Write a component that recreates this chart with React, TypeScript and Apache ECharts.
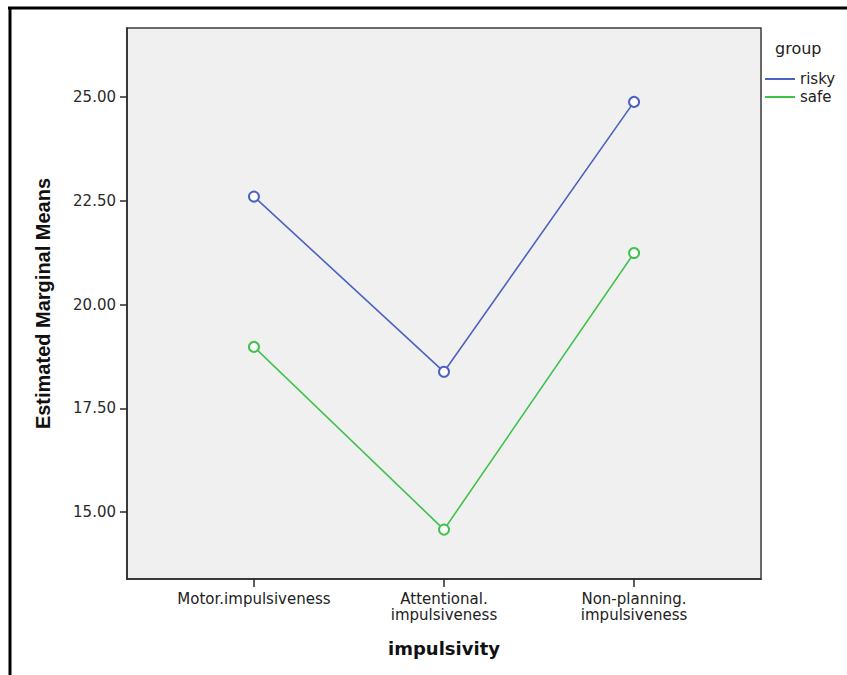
import React, { useEffect, useRef } from "react";
import * as echarts from "echarts";

const categories = ["Motor.impulsiveness", "Attentional.\nimpulsiveness", "Non-planning.\nimpulsiveness"];
const risky = [22.6, 18.38, 24.88];
const safe = [18.98, 14.58, 21.24];
const yTicks = [15, 17.5, 20, 22.5, 25];
const seriesNames = ["risky", "safe"];

export default function App() {
  const ref = useRef<HTMLDivElement>(null);
  useEffect(() => {
    if (!ref.current) return;
    const chart = echarts.init(ref.current, undefined, { renderer: "svg" });
    const toPts = (arr: number[]) => arr.map((v, i) => [i, v]);
    chart.setOption({
      animation: false,
      backgroundColor: "#ffffff",
      grid: {
        left: 127,
        top: 28,
        right: 86,
        bottom: 96,
        show: true,
        backgroundColor: "#f0f0f0",
        borderColor: "#3a3a3a",
        borderWidth: 1.5,
      },
      xAxis: {
        type: "value",
        min: -0.668,
        max: 2.668,
        splitLine: { show: false },
        axisLine: { show: true, onZero: false, lineStyle: { color: "#2a2a2a", width: 1.5 } },
        axisTick: { show: true, customValues: [0, 1, 2], length: 8, lineStyle: { color: "#2a2a2a", width: 1.5 } },
        axisLabel: {
          customValues: [0, 1, 2],
          formatter: (v: number) => categories[Math.round(v)] ?? "",
          fontFamily: "DejaVu Sans",
          fontSize: 15,
          lineHeight: 16,
          color: "#222",
          margin: 12,
        },
        name: "impulsivity",
        nameLocation: "middle",
        nameGap: 60,
        nameTextStyle: { fontFamily: "DejaVu Sans", fontWeight: "bold", fontSize: 18, color: "#111" },
      },
      yAxis: {
        type: "value",
        min: 13.39,
        max: 26.66,
        splitLine: { show: false },
        axisLine: { show: true, onZero: false, lineStyle: { color: "#2a2a2a", width: 1.5 } },
        axisTick: { show: true, customValues: yTicks, length: 7, lineStyle: { color: "#2a2a2a", width: 1.5 } },
        axisLabel: {
          customValues: yTicks,
          formatter: (v: number) => v.toFixed(2),
          fontFamily: "DejaVu Sans",
          fontSize: 15,
          color: "#2a2a2a",
          margin: 11,
        },
        name: "Estimated Marginal Means",
        nameLocation: "middle",
        nameGap: 74,
        nameTextStyle: { fontFamily: "Liberation Sans", fontWeight: "bold", fontSize: 20, color: "#111" },
      },
      legend: {
        orient: "vertical",
        left: 760,
        top: 65,
        icon: "rect",
        itemWidth: 30,
        itemHeight: 2,
        itemGap: 0,
        textStyle: { fontFamily: "DejaVu Sans", fontSize: 15, color: "#222", lineHeight: 18 },
        data: seriesNames,
      },
      graphic: [
        { type: "text", left: 775, top: 40, style: { text: "group", fontFamily: "DejaVu Sans", fontSize: 16, fill: "#222" } },
        { type: "line", shape: { x1: 8, y1: 8, x2: 847, y2: 8 }, style: { stroke: "#000", lineWidth: 3 } },
        { type: "line", shape: { x1: 10, y1: 7, x2: 10, y2: 675 }, style: { stroke: "#000", lineWidth: 3 } },
      ],
      series: [
        {
          name: seriesNames[0],
          type: "line",
          data: toPts(risky),
          symbol: "emptyCircle",
          symbolSize: 10,
          color: "#4a62c0",
          lineStyle: { width: 1.6, color: "#4a62c0" },
          itemStyle: { color: "#4a62c0", borderWidth: 1.3 },
        },
        {
          name: seriesNames[1],
          type: "line",
          data: toPts(safe),
          symbol: "emptyCircle",
          symbolSize: 10,
          color: "#3fc24a",
          lineStyle: { width: 1.6, color: "#3fc24a" },
          itemStyle: { color: "#3fc24a", borderWidth: 1.3 },
        },
      ],
    });
    return () => chart.dispose();
  }, []);
  return <div ref={ref} style={{ position: "fixed", left: 0, top: 0, width: 847, height: 675 }} />;
}
